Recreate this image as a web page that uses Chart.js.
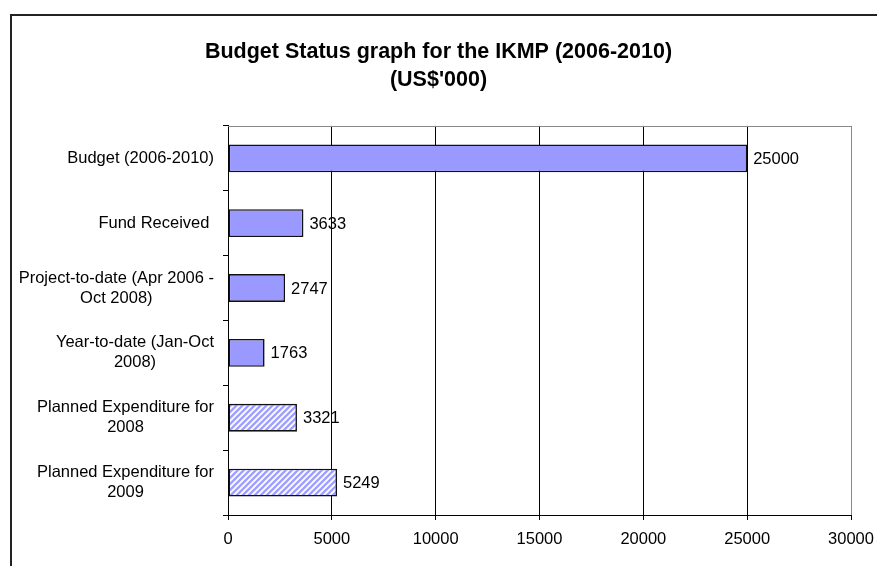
<!DOCTYPE html>
<html>
<head>
<meta charset="utf-8">
<script src="https://cdn.jsdelivr.net/npm/chart.js@4"></script>
<style>
  html, body { margin: 0; padding: 0; background: #fff; }
</style>
</head>
<body>
<canvas id="budgetChart" width="877" height="566"></canvas>
<script>
// data
const categories = [
  ['Budget (2006-2010)'],
  ['Fund Received '],
  ['Project-to-date (Apr 2006 -', 'Oct 2008)'],
  ['Year-to-date (Jan-Oct', '2008)'],
  ['Planned Expenditure for', '2008'],
  ['Planned Expenditure for', '2009']
];
const amounts = [25000, 3633, 2747, 1763, 3321, 5249];
const planned = [false, false, false, false, true, true];
const xTicks = [0, 5000, 10000, 15000, 20000, 25000, 30000];

const FONT = "'Liberation Sans', Arial, sans-serif";

// diagonal hatch for the planned bars
function makeHatch() {
  const c = document.createElement('canvas');
  c.width = 6; c.height = 6;
  const g = c.getContext('2d');
  g.fillStyle = '#fff';
  g.fillRect(0, 0, 6, 6);
  g.strokeStyle = '#a0a0ff';
  g.lineWidth = 2.4;
  g.beginPath();
  g.moveTo(-3, 3); g.lineTo(3, -3);
  g.moveTo(0, 6); g.lineTo(6, 0);
  g.moveTo(3, 9); g.lineTo(9, 3);
  g.stroke();
  return g.createPattern(c, 'repeat');
}
const hatch = makeHatch();

const framePlugin = {
  id: 'frame',
  beforeDraw(chart) {
    const ctx = chart.ctx;
    ctx.save();
    ctx.fillStyle = '#fff';
    ctx.fillRect(0, 0, chart.width, chart.height);
    ctx.strokeStyle = '#222';
    ctx.lineWidth = 2;
    ctx.beginPath();
    ctx.moveTo(11, chart.height);
    ctx.lineTo(11, 15);
    ctx.lineTo(chart.width, 15);
    ctx.stroke();
    ctx.restore();
  },
  afterDraw(chart) {
    const a = chart.chartArea, ctx = chart.ctx;
    ctx.save();
    ctx.strokeStyle = '#888';
    ctx.lineWidth = 1;
    ctx.beginPath();
    ctx.moveTo(a.left, Math.round(a.top) + 0.5);
    ctx.lineTo(a.right, Math.round(a.top) + 0.5);
    ctx.stroke();
    ctx.restore();
  }
};

// category labels: block right aligned, lines centred inside it
const catLabels = {
  id: 'catLabels',
  afterDraw(chart) {
    const ctx = chart.ctx, y = chart.scales.y;
    const right = 214, lineH = 20;
    ctx.save();
    ctx.font = '16.5px ' + FONT;
    ctx.fillStyle = '#000';
    ctx.textAlign = 'center';
    ctx.textBaseline = 'middle';
    categories.forEach((lines, i) => {
      const w = Math.max(...lines.map(l => ctx.measureText(l).width));
      const cx = right - w / 2;
      const cy = y.getPixelForValue(i);
      const top = cy - (lines.length - 1) * lineH / 2;
      lines.forEach((l, k) => ctx.fillText(l, cx, top + k * lineH));
    });
    ctx.restore();
  }
};

const valueLabels = {
  id: 'valueLabels',
  afterDatasetsDraw(chart) {
    const ctx = chart.ctx;
    const meta = chart.getDatasetMeta(0);
    ctx.save();
    ctx.font = '16.5px ' + FONT;
    ctx.fillStyle = '#000';
    ctx.textAlign = 'left';
    ctx.textBaseline = 'middle';
    meta.data.forEach((bar, i) => {
      ctx.fillText(String(amounts[i]), bar.x + 6, bar.y + 1);
    });
    ctx.restore();
  }
};

new Chart(document.getElementById('budgetChart').getContext('2d'), {
  type: 'bar',
  data: {
    labels: categories,
    datasets: [{
      data: amounts,
      backgroundColor: planned.map(p => p ? hatch : '#9999ff'),
      borderColor: '#111',
      borderWidth: 1.6,
      borderSkipped: false,
      barPercentage: 0.43,
      categoryPercentage: 1
    }]
  },
  options: {
    indexAxis: 'y',
    responsive: false,
    animation: false,
    layout: { padding: { left: 26, right: 26, top: 0, bottom: 0 } },
    plugins: {
      legend: { display: false },
      tooltip: { enabled: false },
      title: {
        display: true,
        text: ['Budget Status graph for the IKMP (2006-2010)', "(US$'000)"],
        color: '#000',
        font: { family: FONT, size: 21.5, weight: 'bold', lineHeight: 1.3 },
        padding: { top: 38, bottom: 32 }
      }
    },
    scales: {
      x: {
        min: xTicks[0],
        max: xTicks[xTicks.length - 1],
        ticks: {
          stepSize: xTicks[1] - xTicks[0],
          color: '#000',
          padding: 10,
          font: { family: FONT, size: 16.5 },
          callback: v => String(v)
        },
        grid: {
          color: ctx => (ctx.tick && ctx.tick.value === xTicks[xTicks.length - 1]) ? '#888' : '#000',
          tickColor: '#000',
          tickLength: 5
        },
        border: { color: '#000' },
        afterFit: s => { s.height = 51; s.paddingLeft = 0; s.paddingRight = 0; }
      },
      y: {
        ticks: { display: false },
        grid: {
          offset: true,
          drawOnChartArea: false,
          color: '#000',
          tickLength: 5
        },
        border: { color: '#000' },
        afterFit: s => { s.width = 202; }
      }
    }
  },
  plugins: [framePlugin, catLabels, valueLabels]
});
</script>
</body>
</html>
